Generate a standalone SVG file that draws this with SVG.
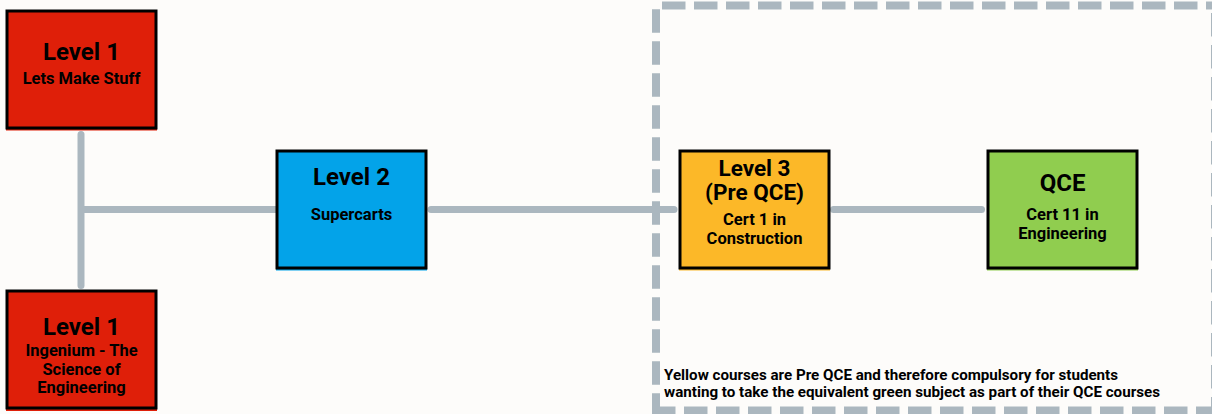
<svg xmlns="http://www.w3.org/2000/svg" width="1212" height="414" viewBox="0 0 1212 414">
  <style>
    .t { font-family: Roboto, "Liberation Sans", sans-serif; font-weight: 700; fill: #000; text-anchor: middle; }
    .h { font-size: 24px; }
    .h3 { font-size: 22.5px; }
    .s { font-size: 16.5px; }
    .note { font-family: Roboto, "Liberation Sans", sans-serif; font-weight: 700; font-size: 15px; fill: #000; }
    .frame { fill: none; stroke: #000; stroke-width: 3; }
    .conn { stroke: #abb7bf; stroke-width: 7; fill: none; }
    .dash { stroke: #abb7bf; stroke-width: 8; fill: none; stroke-dasharray: 23.5 8.5; }
  </style>
  <rect x="0" y="0" width="1212" height="414" fill="#fdfcfa"/>

  <g id="boundary">
    <path class="dash" d="M662,5.5 H1216"/>
    <path class="dash" d="M656,9.3 V414"/>
    <path class="dash" d="M652,410.5 H1216"/>
    <path class="dash" d="M1215,13 V414"/>
  </g>

  <g id="connectors">
    <line class="conn" x1="81" y1="134.5" x2="81" y2="285.5" stroke-linecap="round"/>
    <line class="conn" x1="81" y1="209.5" x2="277" y2="209.5"/>
    <line class="conn" x1="431" y1="209.5" x2="674" y2="209.5" stroke-linecap="round"/>
    <line class="conn" x1="833.5" y1="209.5" x2="981.5" y2="209.5" stroke-linecap="round"/>
  </g>

  <g id="level1a">
    <rect x="6" y="10" width="151" height="120.5" fill="#df1f09"/>
    <rect class="frame" x="7" y="11" width="149" height="117"/>
    <text class="t h" x="81.5" y="59.5">Level 1</text>
    <text class="t s" x="81.5" y="83.5">Lets Make Stuff</text>
  </g>

  <g id="level1b">
    <rect x="6" y="290" width="151" height="121" fill="#df1f09"/>
    <rect class="frame" x="7" y="291" width="149" height="117"/>
    <text class="t h" x="81.5" y="335">Level 1</text>
    <text class="t s" x="81.5" y="356">Ingenium - The</text>
    <text class="t s" x="81.5" y="374.5">Science of</text>
    <text class="t s" x="81.5" y="393">Engineering</text>
  </g>

  <g id="level2">
    <rect x="276" y="150" width="151" height="120.5" fill="#03a3e9"/>
    <rect class="frame" x="277" y="151" width="149" height="117"/>
    <text class="t h" x="351.5" y="184.5">Level 2</text>
    <text class="t s" x="351.5" y="220">Supercarts</text>
  </g>

  <g id="level3">
    <rect x="679" y="150" width="151" height="120.5" fill="#fcb828"/>
    <rect class="frame" x="680" y="151" width="149" height="117"/>
    <text class="t h3" x="754.5" y="175.5">Level 3</text>
    <text class="t h3" x="754.5" y="200">(Pre QCE)</text>
    <text class="t s" x="754.5" y="225">Cert 1 in</text>
    <text class="t s" x="754.5" y="243.5">Construction</text>
  </g>

  <g id="qce">
    <rect x="987" y="150" width="151" height="120.5" fill="#90cd4f"/>
    <rect class="frame" x="988" y="151" width="149" height="117"/>
    <text class="t h" x="1062.5" y="190.5">QCE</text>
    <text class="t s" x="1062.5" y="220">Cert 11 in</text>
    <text class="t s" x="1062.5" y="238.5">Engineering</text>
  </g>

  <g id="note">
    <text class="note" x="664" y="379.5" textLength="454" lengthAdjust="spacingAndGlyphs">Yellow courses are Pre QCE and therefore compulsory for students</text>
    <text class="note" x="664" y="396.5" textLength="496" lengthAdjust="spacingAndGlyphs">wanting to take the equivalent green subject as part of their QCE courses</text>
  </g>
</svg>
